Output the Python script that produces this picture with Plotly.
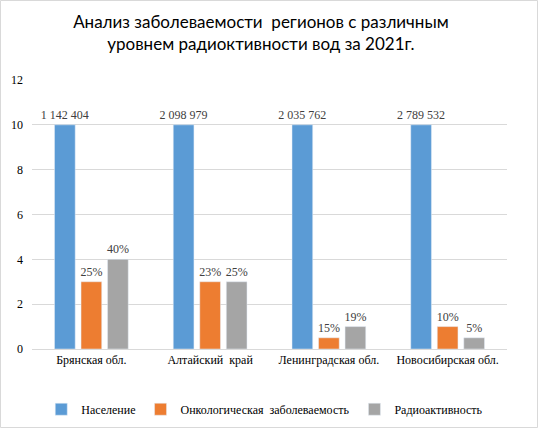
import plotly.graph_objects as go

# -------------------------------
# data
# -------------------------------
regions = ["Брянская обл.", "Алтайский  край", "Ленинградская обл.", "Новосибирская обл."]
population = [10, 10, 10, 10]
population_labels = ["1 142 404", "2 098 979", "2 035 762", "2 789 532"]
oncology = [3, 3, 0.5, 1]
oncology_labels = ["25%", "23%", "15%", "10%"]
radioactivity = [4, 3, 1, 0.5]
radioactivity_labels = ["40%", "25%", "19%", "5%"]

serif = "Liberation Serif"
label_font = dict(family=serif, size=12, color="#404040")


def bar(y, name, color, labels):
    return go.Bar(x=regions, y=y, name=name, marker_color=color,
                  text=labels, textposition="outside", textfont=label_font,
                  constraintext="none", cliponaxis=False)


fig = go.Figure()
fig.add_trace(bar(population, "Население", "#5B9BD5", population_labels))
fig.add_trace(bar(oncology, "Онкологическая  заболеваемость", "#ED7D31", oncology_labels))
fig.add_trace(bar(radioactivity, "Радиоактивность", "#A5A5A5", radioactivity_labels))

fig.update_layout(
    width=538, height=428,
    margin=dict(l=32, r=31, t=80, b=79, autoexpand=False),
    paper_bgcolor="white", plot_bgcolor="white",
    barmode="group", bargap=0.33, bargroupgap=0.22,
    title=dict(text="Анализ заболеваемости  регионов с различным<br>уровнем радиоктивности вод за 2021г.",
               x=0.485, xanchor="center", y=0.935, yanchor="top",
               font=dict(family="Lato", size=17, color="#000000")),
    font=dict(family=serif, size=12, color="#000000"),
    showlegend=True,
    legend=dict(orientation="h", x=0.49, xanchor="center", y=-0.17, yanchor="top",
                font=dict(family=serif, size=12, color="#000000"), itemwidth=30,
                traceorder="normal"),
)
fig.update_yaxes(range=[0, 12], dtick=2, showgrid=True, gridcolor="#D9D9D9", gridwidth=1,
                 zeroline=False, showline=False, ticks="", ticklabelstandoff=8,
                 automargin=False, tickfont=dict(family=serif, size=12, color="#000000"))
fig.update_xaxes(showline=True, linecolor="#D9D9D9", linewidth=1, ticks="", automargin=False,
                 tickfont=dict(family=serif, size=12, color="#000000"))

# light frame around the chart area
fig.add_shape(type="rect", xref="paper", yref="paper",
              x0=-31.5 / 475, x1=1 + 30.5 / 475, y0=-78.5 / 269, y1=1 + 79.5 / 269,
              line=dict(color="#D9D9D9", width=1), fillcolor="rgba(0,0,0,0)")

# drop the default page margin so the chart sits at the window corner
fig.write_html("out.html", config={"displayModeBar": False},
               post_script="document.body.style.margin='0';")
